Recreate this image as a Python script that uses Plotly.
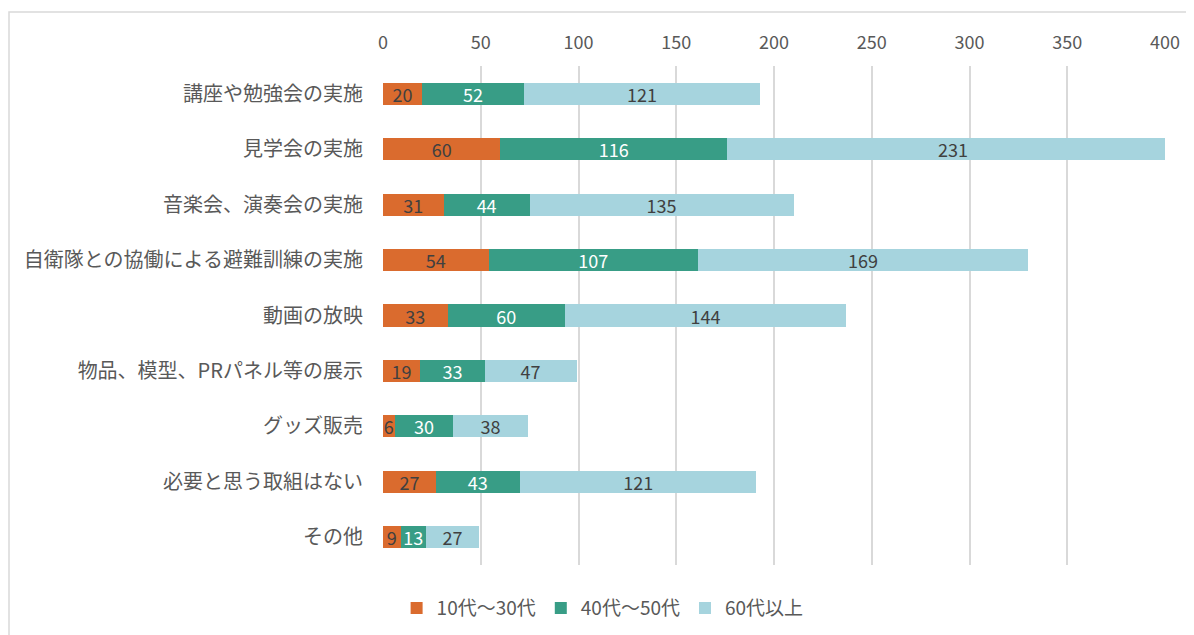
import plotly.graph_objects as go

categories = ["講座や勉強会の実施", "見学会の実施", "音楽会、演奏会の実施", "自衛隊との協働による避難訓練の実施",
              "動画の放映", "物品、模型、PRパネル等の展示", "グッズ販売", "必要と思う取組はない", "その他"]
series_names = ["10代～30代", "40代～50代", "60代以上"]
v_10_30 = [20, 60, 31, 54, 33, 19, 6, 27, 9]
v_40_50 = [52, 116, 44, 107, 60, 33, 30, 43, 13]
v_60 = [121, 231, 135, 169, 144, 47, 38, 121, 27]
x_ticks = [0, 50, 100, 150, 200, 250, 300, 350, 400]

colors = ["#DA6B2E", "#389D86", "#A6D4DE"]
text_colors = ["#404040", "#FFFFFF", "#404040"]
FONT = "Noto Sans CJK JP"

# page offset of 8px (body margin) is compensated in the margins below
L, T, R, B = 375, 58, 37, 78
PW = 1194 - L - R
PH = 635 - T - B

fig = go.Figure()
for name, vals, c, tc in zip(series_names, [v_10_30, v_40_50, v_60], colors, text_colors):
    fig.add_trace(go.Bar(
        y=categories, x=vals, name=name, orientation="h",
        marker=dict(color=c, line=dict(width=0)),
        text=[str(v) for v in vals], textposition="inside", insidetextanchor="middle",
        textangle=0, constraintext="none", cliponaxis=True,
        textfont=dict(family=FONT, size=18, color=tc),
        hoverinfo="x+y+name",
    ))

fig.update_layout(
    width=1194, height=635, barmode="stack", bargap=0.6,
    paper_bgcolor="white", plot_bgcolor="white",
    margin=dict(l=L, r=R, t=T, b=B, autoexpand=False),
    font=dict(family=FONT, size=18, color="#595959"),
    xaxis=dict(side="top", range=[0, 400], tickvals=x_ticks, showgrid=True, gridcolor="#D9D9D9",
               gridwidth=1.5, zeroline=False, showline=False, ticks="",
               ticklabelstandoff=12, tickfont=dict(size=18, color="#595959")),
    yaxis=dict(autorange="reversed", showgrid=False, zeroline=False, showline=False, ticks="",
               ticklabelstandoff=19, tickfont=dict(size=20, color="#595959")),
    legend=dict(orientation="h", xref="container", yref="container", x=0.498, y=0.055,
                xanchor="center", yanchor="middle", font=dict(size=19, color="#595959"),
                traceorder="normal", itemwidth=30),
    shapes=[dict(type="rect", xref="paper", yref="paper",
                 x0=(1 - L) / PW, x1=(1230 - L) / PW,
                 y0=(T + PH - 660) / PH, y1=(T + PH - 4) / PH,
                 line=dict(color="#D9D9D9", width=1.5), fillcolor="rgba(0,0,0,0)", layer="below")],
)

fig.write_html("out.html")
